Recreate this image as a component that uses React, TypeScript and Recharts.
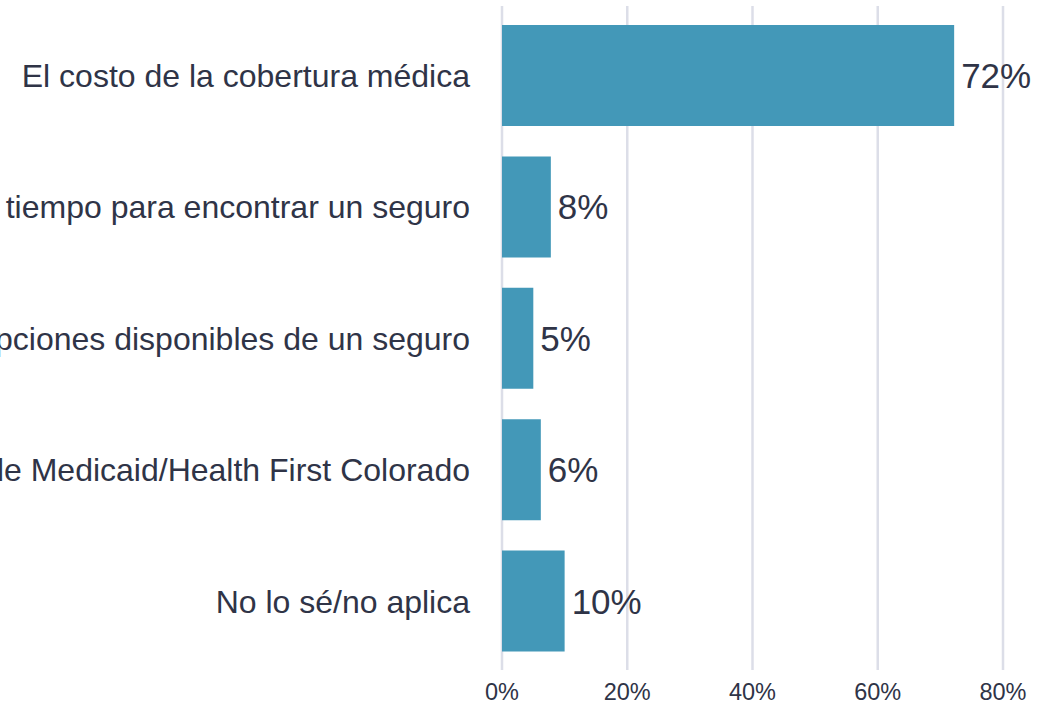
import React from 'react';
import { BarChart, Bar, XAxis, YAxis, CartesianGrid, LabelList } from 'recharts';

const categories = [
  'El costo de la cobertura médica',
  'Falta de tiempo para encontrar un seguro',
  'Confusión sobre las opciones disponibles de un seguro',
  'Pérdida de la cobertura de Medicaid/Health First Colorado',
  'No lo sé/no aplica',
];
const shares = [72.2, 7.8, 5, 6.2, 10];
const xTicks = [0, 20, 40, 60, 80];

const FONT = '"Liberation Sans", Arial, Helvetica, sans-serif';
const TEXT = '#2f3447';
const BAR = '#4398b8';
const GRID = '#dcdee8';

const data = categories.map((name, i) => ({ name, value: shares[i] }));

const pct = (v: number) => `${Math.round(v)}%`;

export default function App() {
  return (
    <div style={{ position: 'absolute', left: 0, top: 0, width: 1039, height: 704, background: '#fff' }}>
      <BarChart
        width={1039}
        height={704}
        data={data}
        layout="vertical"
        margin={{ top: 6, right: 36, bottom: 0, left: 0 }}
        barSize={101}
      >
        <CartesianGrid horizontal={false} stroke={GRID} strokeWidth={2.5} />
        <XAxis
          type="number"
          domain={[0, 80]}
          ticks={xTicks}
          tickFormatter={pct}
          axisLine={false}
          tickLine={false}
          tickSize={0}
          tickMargin={13}
          height={34}
          tick={{ fill: TEXT, fontSize: 23.5, fontFamily: FONT }}
        />
        <YAxis
          type="category"
          dataKey="name"
          width={502}
          axisLine={false}
          tickLine={false}
          tickSize={0}
          tickMargin={32}
          padding={{ top: 4, bottom: 3 }}
          interval={0}
          tick={{ fill: TEXT, fontSize: 32, fontFamily: FONT }}
        />
        <Bar dataKey="value" fill={BAR} isAnimationActive={false}>
          <LabelList
            dataKey="value"
            position="right"
            offset={7}
            formatter={(v: any) => pct(Number(v))}
            style={{ fill: TEXT, fontSize: 35, fontFamily: FONT }}
          />
        </Bar>
      </BarChart>
    </div>
  );
}
